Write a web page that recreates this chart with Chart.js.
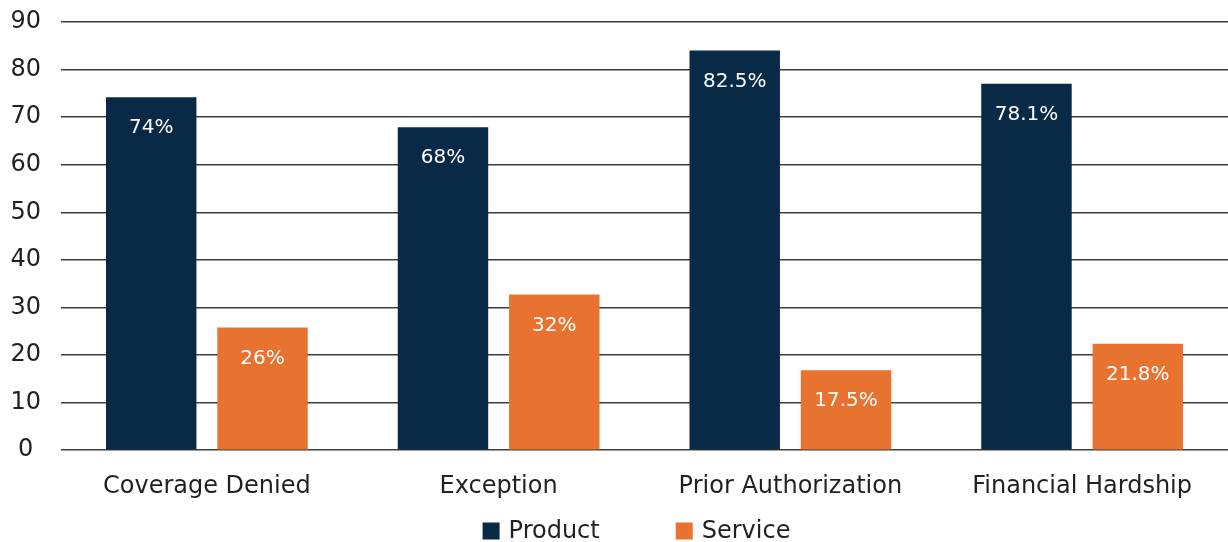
<!DOCTYPE html>
<html>
<head>
<meta charset="utf-8">
<script src="https://cdn.jsdelivr.net/npm/chart.js@4"></script>
<style>
  html, body { margin: 0; padding: 0; background: #ffffff; }
  #wrap { width: 1228px; height: 542px; position: relative; }
</style>
</head>
<body>
<div id="wrap"><canvas id="c" width="1228" height="542"></canvas></div>
<script>
const categories = ["Coverage Denied", "Exception", "Prior Authorization", "Financial Hardship"];
const seriesNames = ["Product", "Service"];
const productValues = [74.2, 67.9, 84.0, 77.0];
const serviceValues = [25.8, 32.7, 16.8, 22.4];
const productLabels = ["74%", "68%", "82.5%", "78.1%"];
const serviceLabels = ["26%", "32%", "17.5%", "21.8%"];
const yTicks = [0, 10, 20, 30, 40, 50, 60, 70, 80, 90];

const FONT = "'DejaVu Sans', 'Noto Sans', sans-serif";
const NAVY = "#082a47";
const ORANGE = "#e87330";
const TEXT = "#231f20";

const valueLabelPlugin = {
  id: "valueLabels",
  afterDatasetsDraw(chart) {
    const ctx = chart.ctx;
    ctx.save();
    ctx.fillStyle = "#ffffff";
    ctx.font = "20px " + FONT;
    ctx.textAlign = "center";
    ctx.textBaseline = "middle";
    chart.data.datasets.forEach((ds, di) => {
      const meta = chart.getDatasetMeta(di);
      meta.data.forEach((bar, i) => {
        ctx.fillText(ds.valueLabels[i], bar.x, bar.y + 31);
      });
    });
    ctx.restore();
  }
};

const customLegend = {
  id: "customLegend",
  afterDraw(chart) {
    const ctx = chart.ctx;
    ctx.save();
    ctx.font = "24px " + FONT;
    ctx.textBaseline = "middle";
    const box = 17, gapText = 9, gapItem = 76;
    const items = chart.data.datasets.map(d => ({ label: d.label, color: d.backgroundColor }));
    let total = 0;
    items.forEach((it, i) => {
      it.w = box + gapText + ctx.measureText(it.label).width;
      total += it.w + (i ? gapItem : 0);
    });
    const cx = (chart.chartArea.left + chart.chartArea.right) / 2 - 8;
    let x = cx - total / 2;
    const y = 531;
    items.forEach(it => {
      ctx.fillStyle = it.color;
      ctx.fillRect(x, y - box / 2, box, box);
      ctx.fillStyle = TEXT;
      ctx.fillText(it.label, x + box + gapText, y + 1);
      x += it.w + gapItem;
    });
    ctx.restore();
  }
};

new Chart(document.getElementById("c"), {
  type: "bar",
  data: {
    labels: categories,
    datasets: [
      { label: seriesNames[0], data: productValues, valueLabels: productLabels, backgroundColor: NAVY,
        categoryPercentage: 0.763, barPercentage: 0.8125 },
      { label: seriesNames[1], data: serviceValues, valueLabels: serviceLabels, backgroundColor: ORANGE,
        categoryPercentage: 0.763, barPercentage: 0.8125 }
    ]
  },
  options: {
    responsive: false,
    animation: false,
    devicePixelRatio: 1,
    layout: { padding: { top: 0, right: -7, bottom: 27, left: -1 } },
    plugins: {
      legend: { display: false },
      tooltip: { enabled: false }
    },
    scales: {
      x: {
        grid: { display: false },
        border: { display: false },
        ticks: { color: TEXT, font: { family: FONT, size: 24 }, padding: 14, maxRotation: 0 }
      },
      y: {
        min: 0, max: 90,
        afterBuildTicks(axis) { axis.ticks = yTicks.map(v => ({ value: v })); },
        afterFit(axis) { axis.width = 62; axis.paddingTop = 22; axis.paddingBottom = 14; },
        grid: { color: "#3d3d3d", lineWidth: 1.6, drawTicks: false },
        border: { display: false },
        ticks: { color: TEXT, font: { family: FONT, size: 24 }, crossAlign: "center", padding: 20 }
      }
    }
  },
  plugins: [valueLabelPlugin, customLegend]
});
</script>
</body>
</html>
